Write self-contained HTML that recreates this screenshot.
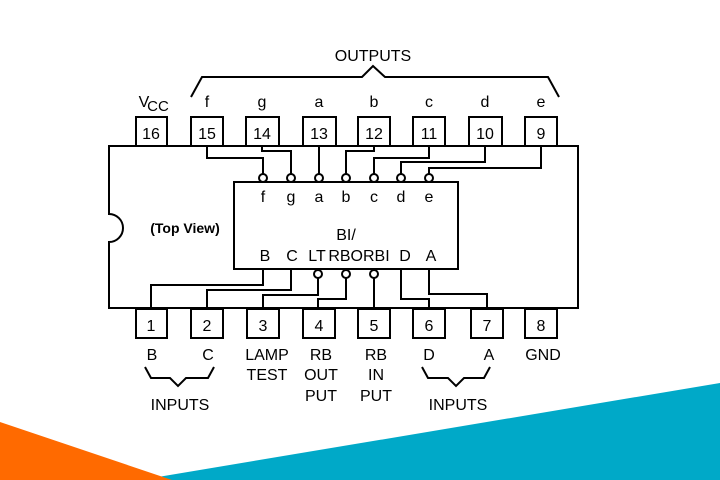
<!DOCTYPE html>
<html><head><style>body{margin:0;background:#fff}svg{display:block}text{font-family:"Liberation Sans",sans-serif;fill:#000}</style></head>
<body>
<svg width="720" height="480" viewBox="0 0 720 480" xmlns="http://www.w3.org/2000/svg">
<polygon points="140,480 720,383 720,480" fill="#00a9c8"/>
<polygon points="0,422 172,480 0,480" fill="#ff6a00"/>
<g fill="none" stroke="#000" stroke-width="2">
<path d="M109,146 H578 V308 H109 V242 A14,14 0 0 0 109,214 Z" fill="#fff"/>
<rect x="234" y="182" width="224" height="87" fill="#fff"/>
<path d="M191,97 L202,77 H362 L373,66 L385,77 H548 L559,97"/>
<path d="M145,367 L151,378 H170 L178,386 L186,378 H208 L214,367"/>
<path d="M422,367 L428,378 H448 L456,386 L464,378 H484 L490,367"/>
<path d="M207,146 V158 H263 V174"/>
<path d="M262,146 V151 H291 V174"/>
<path d="M319,146 V174"/>
<path d="M374,146 V151 H346 V174"/>
<path d="M429,146 V158 H374 V174"/>
<path d="M485,146 V162 H401 V174"/>
<path d="M541,146 V168 H429 V174"/>
<path d="M263,269 V285 H151 V308"/>
<path d="M291,269 V290 H207 V308"/>
<path d="M318,278 V295 H263 V308"/>
<path d="M346,278 V299 H318 V308"/>
<path d="M374,278 V308"/>
<path d="M401,269 V299 H429 V308"/>
<path d="M429,269 V294 H487 V308"/>
</g>
<g fill="#fff" stroke="#000" stroke-width="2">
<circle cx="263" cy="178" r="4"/><circle cx="291" cy="178" r="4"/><circle cx="319" cy="178" r="4"/><circle cx="346" cy="178" r="4"/><circle cx="374" cy="178" r="4"/><circle cx="401" cy="178" r="4"/><circle cx="429" cy="178" r="4"/>
<circle cx="318" cy="274" r="4"/><circle cx="346" cy="274" r="4"/><circle cx="374" cy="274" r="4"/>
<rect x="136" y="117" width="31" height="29"/><rect x="191" y="117" width="32" height="29"/><rect x="246" y="117" width="33" height="29"/><rect x="303" y="117" width="33" height="29"/><rect x="358" y="117" width="32" height="29"/><rect x="413" y="117" width="32" height="29"/><rect x="469" y="117" width="33" height="29"/><rect x="525" y="117" width="32" height="29"/>
<rect x="136" y="309" width="31" height="29"/><rect x="191" y="309" width="32" height="29"/><rect x="247" y="309" width="32" height="29"/><rect x="303" y="309" width="32" height="29"/><rect x="358" y="309" width="32" height="29"/><rect x="413" y="309" width="32" height="29"/><rect x="471" y="309" width="32" height="29"/><rect x="525" y="309" width="32" height="29"/>
</g>
<g font-size="16" text-anchor="middle">
<text x="373" y="61">OUTPUTS</text>
<text x="207" y="107">f</text><text x="262" y="107">g</text><text x="319" y="107">a</text><text x="374" y="107">b</text><text x="429" y="107">c</text><text x="485" y="107">d</text><text x="541" y="107">e</text>
<text x="144" y="107">V</text><text x="158" y="111" font-size="15">CC</text>
<text x="151" y="139">16</text><text x="207" y="139">15</text><text x="262" y="139">14</text><text x="319" y="139">13</text><text x="374" y="139">12</text><text x="429" y="139">11</text><text x="485" y="139">10</text><text x="541" y="139">9</text>
<text x="151" y="331">1</text><text x="207" y="331">2</text><text x="263" y="331">3</text><text x="319" y="331">4</text><text x="374" y="331">5</text><text x="429" y="331">6</text><text x="487" y="331">7</text><text x="541" y="331">8</text>
<text x="263" y="202">f</text><text x="291" y="202">g</text><text x="319" y="202">a</text><text x="346" y="202">b</text><text x="374" y="202">c</text><text x="401" y="202">d</text><text x="429" y="202">e</text>
<text x="346" y="240">BI/</text>
<text x="265" y="261">B</text><text x="292" y="261">C</text><text x="317" y="261">LT</text><text x="359" y="261">RBORBI</text><text x="405" y="261">D</text><text x="431" y="261">A</text>
<text x="152" y="360">B</text><text x="208" y="360">C</text><text x="267" y="360">LAMP</text><text x="267" y="380">TEST</text>
<text x="321" y="360">RB</text><text x="321" y="380">OUT</text><text x="321" y="401">PUT</text>
<text x="376" y="360">RB</text><text x="376" y="380">IN</text><text x="376" y="401">PUT</text>
<text x="429" y="360">D</text><text x="489" y="360">A</text><text x="543" y="360">GND</text>
<text x="180" y="410">INPUTS</text><text x="458" y="410">INPUTS</text>
<text x="185" y="233" font-size="14" font-weight="bold">(Top View)</text>
</g>
</svg>
</body></html>
